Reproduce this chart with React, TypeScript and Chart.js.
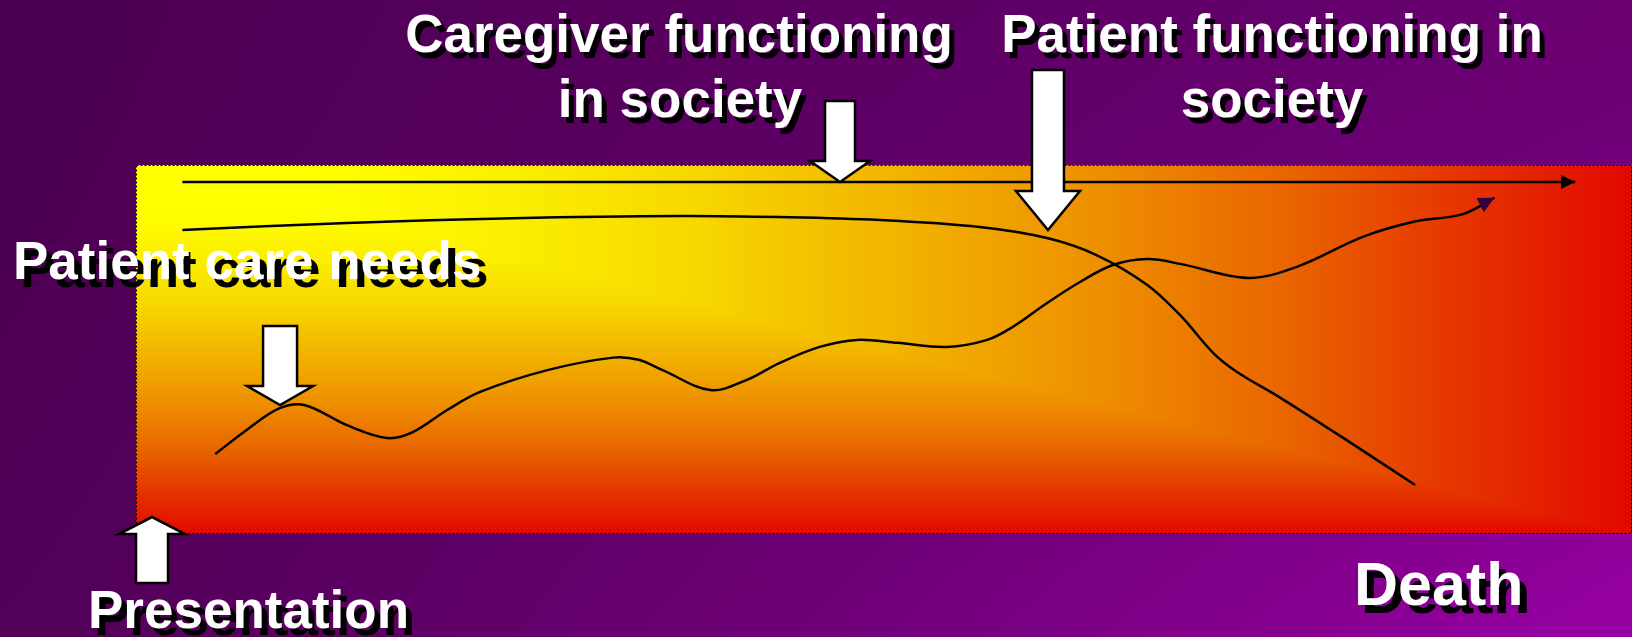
import React, { useEffect, useRef } from "react";
import { Chart, registerables } from "chart.js";

Chart.register(...registerables);

// ---- data (x: time from presentation 0..100, y: level 0..100) ----
const timeX = [3.1, 96.2];
const timeY = [95.4, 95.4];

const functionX = [3.1, 14.1, 25.2, 36.4, 43.0, 49.7, 56.4, 60.9, 64.2, 67.6, 69.8, 72.0, 73.6, 76.5, 80.9, 85.5];
const functionY = [82.4, 84.3, 85.6, 86.2, 85.9, 85.1, 83.2, 80.2, 75.6, 67.5, 59.3, 49.1, 43.9, 36.9, 25.5, 13.3];

const careX = [5.3, 7.4, 9.6, 11.3, 14.1, 16.8, 18.5, 20.8, 23.0, 27.5, 31.9, 33.6, 35.2, 38.4, 40.8, 43.0, 45.7, 48.2, 50.9, 54.2, 56.9, 58.6, 60.9, 63.1, 65.3, 67.6, 69.8, 74.3, 77.6, 82.0, 85.4, 88.7, 90.8];
const careY = [21.7, 28.2, 34.1, 34.9, 29.5, 26.0, 27.6, 33.6, 38.5, 44.4, 47.8, 47.2, 44.4, 39.0, 41.7, 46.3, 50.7, 52.6, 51.8, 50.7, 52.6, 56.1, 62.6, 68.3, 72.9, 74.5, 73.2, 69.4, 72.4, 80.5, 84.6, 86.7, 91.1];

// block-arrow annotations: tip position in data space
const calloutTipX = [47.06, 60.96, 9.63, 1.07];
const calloutTipY = [95.4, 82.4, 34.96, 4.6];

const labelLines = [
  ["Caregiver functioning", "in society"],
  ["Patient functioning in", "society"],
  ["Patient care needs"],
  ["Presentation"],
  ["Death"],
];

const FONT = '"Liberation Sans", Arial, Helvetica, sans-serif';

function toPts(xs: number[], ys: number[]) {
  return xs.map((x, i) => ({ x, y: ys[i] }));
}

function hex(c: string) {
  return [parseInt(c.slice(1, 3), 16), parseInt(c.slice(3, 5), 16), parseInt(c.slice(5, 7), 16)];
}

const plotStops: [number, string][] = [
  [0, "#ffff00"],
  [0.12, "#ffff00"],
  [0.25, "#fbef00"],
  [0.37, "#f7d800"],
  [0.5, "#f2b600"],
  [0.64, "#ee9000"],
  [0.77, "#e96400"],
  [0.87, "#e63a00"],
  [1, "#e20800"],
];

function buildLut() {
  const n = 1024;
  const lut = new Uint8ClampedArray(n * 3);
  const st = plotStops.map(([t, c]) => [t, ...hex(c)] as number[]);
  for (let i = 0; i < n; i++) {
    const t = i / (n - 1);
    let k = 0;
    while (k < st.length - 2 && t > st[k + 1][0]) k++;
    const a = st[k], b = st[k + 1];
    const f = Math.min(1, Math.max(0, (t - a[0]) / (b[0] - a[0] || 1)));
    lut[i * 3] = a[1] + (b[1] - a[1]) * f;
    lut[i * 3 + 1] = a[2] + (b[2] - a[2]) * f;
    lut[i * 3 + 2] = a[3] + (b[3] - a[3]) * f;
  }
  return lut;
}

const bgPlugin = {
  id: "bgPaint",
  beforeDraw(chart: any) {
    const ctx: CanvasRenderingContext2D = chart.ctx;
    const w = chart.canvas.width, h = chart.canvas.height;
    const area = chart.chartArea;
    const img = ctx.createImageData(w, h);
    const d = img.data;
    const TL = hex("#4a0050"), TR = hex("#6a0072"), BL = hex("#520058"), BR = hex("#9800a4");
    const lut = buildLut();
    const aw = area.right - area.left, ah = area.bottom - area.top;
    for (let y = 0; y < h; y++) {
      const v = y / (h - 1);
      for (let x = 0; x < w; x++) {
        const i = (y * w + x) * 4;
        if (x >= area.left && x < area.right && y >= area.top && y < area.bottom) {
          const t = Math.max((x - area.left) / aw, (y - area.top) / ah);
          const k = Math.min(1023, Math.max(0, Math.round(t * 1023))) * 3;
          d[i] = lut[k]; d[i + 1] = lut[k + 1]; d[i + 2] = lut[k + 2];
        } else {
          const u = x / (w - 1);
          const vv = Math.pow(v, 1.3);
          for (let c = 0; c < 3; c++) {
            const top = TL[c] + (TR[c] - TL[c]) * u;
            const bot = BL[c] + (BR[c] - BL[c]) * Math.pow(u, 1.25);
            d[i + c] = top + (bot - top) * vv;
          }
        }
        d[i + 3] = 255;
      }
    }
    ctx.putImageData(img, 0, 0);
    ctx.save();
    ctx.strokeStyle = "#000";
    ctx.lineWidth = 1;
    ctx.setLineDash([2, 2]);
    ctx.strokeRect(area.left + 0.5, area.top + 0.5, aw - 1, ah - 1);
    ctx.restore();
  },
};

function arrowHead(ctx: CanvasRenderingContext2D, from: any, tip: any, len: number, half: number, color: string) {
  const dx = tip.x - from.x, dy = tip.y - from.y;
  const L = Math.hypot(dx, dy) || 1;
  const ux = dx / L, uy = dy / L;
  const bx = tip.x - ux * len, by = tip.y - uy * len;
  ctx.beginPath();
  ctx.moveTo(tip.x, tip.y);
  ctx.lineTo(bx - uy * half, by + ux * half);
  ctx.lineTo(bx + uy * half, by - ux * half);
  ctx.closePath();
  ctx.fillStyle = color;
  ctx.fill();
}

function blockArrow(ctx: CanvasRenderingContext2D, cx: number, tipY: number, dir: number, headLen: number, headHalf: number, shaftHalf: number, shaftLen: number) {
  const hb = tipY - dir * headLen;
  const tail = tipY - dir * (headLen + shaftLen);
  ctx.beginPath();
  ctx.moveTo(cx - shaftHalf, tail);
  ctx.lineTo(cx + shaftHalf, tail);
  ctx.lineTo(cx + shaftHalf, hb);
  ctx.lineTo(cx + headHalf, hb);
  ctx.lineTo(cx, tipY);
  ctx.lineTo(cx - headHalf, hb);
  ctx.lineTo(cx - shaftHalf, hb);
  ctx.closePath();
  ctx.fillStyle = "#ffffff";
  ctx.fill();
  ctx.strokeStyle = "#000000";
  ctx.lineWidth = 2.5;
  ctx.lineJoin = "miter";
  ctx.stroke();
}

function shadowText(ctx: CanvasRenderingContext2D, text: string, x: number, y: number, size: number, align: CanvasTextAlign, off: [number, number]) {
  ctx.font = `bold ${size}px ${FONT}`;
  ctx.textAlign = align;
  ctx.textBaseline = "alphabetic";
  ctx.fillStyle = "#000000";
  ctx.fillText(text, x + off[0], y + off[1]);
  ctx.fillStyle = "#ffffff";
  ctx.fillText(text, x, y);
}

const overlayPlugin = {
  id: "overlay",
  afterDatasetsDraw(chart: any) {
    const ctx: CanvasRenderingContext2D = chart.ctx;
    const xs = chart.scales.x, ys = chart.scales.y;
    ctx.save();
    // arrowheads on the time axis line and the care-needs curve
    const m0 = chart.getDatasetMeta(0).data;
    arrowHead(ctx, m0[m0.length - 2], m0[m0.length - 1], 14, 7, "#000000");
    const m2 = chart.getDatasetMeta(2).data;
    arrowHead(ctx, m2[m2.length - 2], m2[m2.length - 1], 16, 8, "#33003f");

    // block arrows
    const specs = [
      { dir: 1, headLen: 21, headHalf: 30, shaftHalf: 15, shaftLen: 60 },
      { dir: 1, headLen: 39, headHalf: 32, shaftHalf: 16, shaftLen: 121 },
      { dir: 1, headLen: 19, headHalf: 33, shaftHalf: 17, shaftLen: 60 },
      { dir: -1, headLen: 17, headHalf: 33, shaftHalf: 16, shaftLen: 49 },
    ];
    specs.forEach((s, i) => {
      const px = xs.getPixelForValue(calloutTipX[i]);
      const py = ys.getPixelForValue(calloutTipY[i]);
      blockArrow(ctx, px, py, s.dir, s.headLen, s.headHalf, s.shaftHalf, s.shaftLen);
    });

    // labels
    shadowText(ctx, labelLines[0][0], 679, 52, 53, "center", [5, 6]);
    shadowText(ctx, labelLines[0][1], 680, 117, 53, "center", [5, 6]);
    shadowText(ctx, labelLines[1][0], 1272, 52, 53, "center", [5, 6]);
    shadowText(ctx, labelLines[1][1], 1272, 117, 53, "center", [5, 6]);
    shadowText(ctx, labelLines[2][0], 13, 279, 53, "left", [7, 8]);
    shadowText(ctx, labelLines[3][0], 88, 628, 53, "left", [6, 7]);
    shadowText(ctx, labelLines[4][0], 1354, 605, 61, "left", [7, 8]);
    ctx.restore();
  },
};

export default function App() {
  const ref = useRef<HTMLCanvasElement | null>(null);
  useEffect(() => {
    document.body.style.margin = "0";
    const canvas = ref.current!;
    const common = {
      borderColor: "#000000",
      borderWidth: 2.5,
      pointRadius: 0,
      fill: false,
      clip: false as any,
    };
    const chart = new Chart(canvas, {
      type: "line",
      data: {
        datasets: [
          { ...common, label: "Time", data: toPts(timeX, timeY), tension: 0 },
          { ...common, label: "Patient functioning in society", data: toPts(functionX, functionY), tension: 0.35 },
          { ...common, label: "Patient care needs", data: toPts(careX, careY), tension: 0.35 },
        ],
      },
      options: {
        animation: false,
        responsive: false,
        devicePixelRatio: 1,
        layout: { padding: { left: 136, top: 165, right: 0, bottom: 103 } },
        scales: {
          x: { type: "linear", min: 0, max: 100, display: false },
          y: { type: "linear", min: 0, max: 100, display: false },
        },
        plugins: {
          legend: { display: false },
          tooltip: { enabled: false },
          title: { display: false },
        },
        events: [],
      },
      plugins: [bgPlugin, overlayPlugin],
    } as any);
    return () => chart.destroy();
  }, []);
  return <canvas ref={ref} width={1632} height={637} style={{ display: "block" }} />;
}
